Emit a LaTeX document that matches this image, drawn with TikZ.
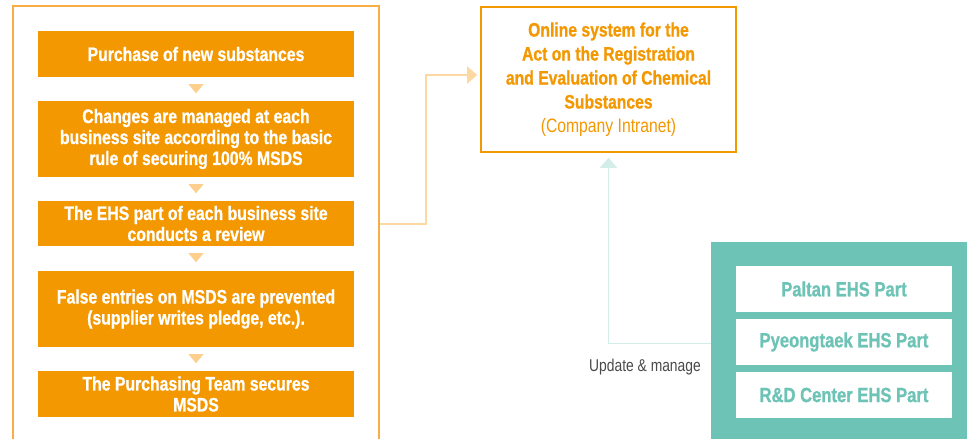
\documentclass[tikz,border=0pt]{standalone}
\usepackage{fontspec}
\setmainfont{Liberation Sans}[FakeStretch=0.81,BoldFeatures={FakeBold=0.8}]
\usetikzlibrary{arrows.meta,calc}
\definecolor{ora}{HTML}{F39800}
\definecolor{oraframe}{HTML}{F6AE45}
\definecolor{oralight}{HTML}{FDD8A2}
\definecolor{oratri}{HTML}{FCCF8C}
\definecolor{teal}{HTML}{6DC3B5}
\definecolor{teallight}{HTML}{D3EDE8}
\definecolor{graytxt}{HTML}{4A4A4A}
\begin{document}
\begin{tikzpicture}[x=1pt,y=-1pt,
  stepbox/.style={fill=ora,text=white,font=\fontsize{19.5}{21}\selectfont\bfseries,
    minimum width=316pt,align=center,inner sep=0pt},
  partbox/.style={fill=white,text=teal,font=\fontsize{20.5}{22}\selectfont\bfseries,
    minimum width=216pt,minimum height=46pt,inner sep=0pt},
  oconn/.style={draw=oralight,line width=1.6pt,-{Triangle[length=10pt,width=17pt]}},
  tconn/.style={draw=teallight,line width=1.6pt,-{Triangle[length=10pt,width=17pt]}},
  tri/.style={fill=oratri}]
\clip (0,0) rectangle (967,439);
\fill[white] (0,0) rectangle (967,439);
% left frame
\node[draw=oraframe,line width=1.3pt,minimum width=366pt,minimum height=454pt,inner sep=0pt] (frame) at (196,233) {};
% step boxes
\node[stepbox,minimum height=46pt] (b1) at (196,54) {Purchase of new substances};
\node[stepbox,minimum height=76pt] (b2) at (196,139) {Changes are managed at each\\business site according to the basic\\rule of securing 100\% MSDS};
\node[stepbox,minimum height=45pt] (b3) at (196,223.5) {The EHS part of each business site\\conducts a review};
\node[stepbox,minimum height=76pt] (b4) at (196,309) {False entries on MSDS are prevented\\(supplier writes pledge, etc.).};
\node[stepbox,minimum height=46pt] (b5) at (196,394) {The Purchasing Team secures\\MSDS};
% triangles
\foreach \b in {b1,b2,b3,b4}{
  \fill[tri] ($(\b.south)+(-7.5,7)$) -- ++(15,0) -- ++(-7.5,9) -- cycle;
}
% online system box
\node[draw=ora,line width=1.6pt,minimum width=255pt,minimum height=145pt,inner sep=0pt,
  text=ora,align=center,font=\fontsize{19.4}{24}\selectfont] (online) at (608.5,79.5)
  {\bfseries Online system for the\\\bfseries Act on the Registration\\\bfseries and Evaluation of Chemical\\\bfseries Substances\\(Company Intranet)};
% green panel
\node[fill=teal,minimum width=261pt,minimum height=203pt,inner sep=0pt] (green) at (841.5,343.5) {};
\node[partbox] (p1) at (844,289) {Paltan EHS Part};
\node[partbox] (p2) at (844,342) {Pyeongtaek EHS Part};
\node[partbox] (p3) at (844,395) {R\&D Center EHS Part};
% connectors
\draw[oconn] ([yshift=9pt]frame.east) -| ([xshift=-54pt,yshift=4.5pt]online.west) -- ([xshift=-3pt,yshift=4.5pt]online.west);
\draw[tconn,shorten >=5pt] (green.west) -| (online.south);
\node[text=graytxt,font=\fontsize{17.1}{18}\selectfont,inner sep=0pt] (upd) at (645,367) {Update \& manage};
\end{tikzpicture}
\end{document}
